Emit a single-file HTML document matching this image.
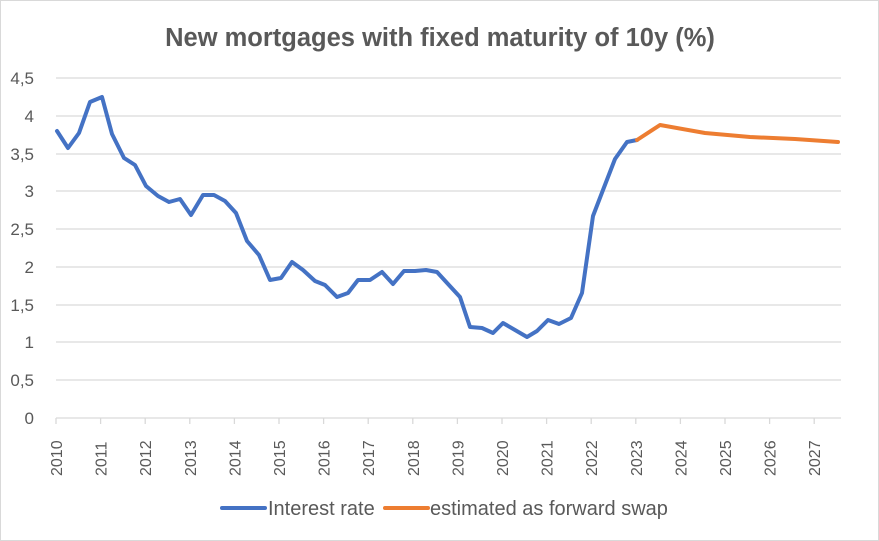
<!DOCTYPE html>
<html><head><style>
html,body{margin:0;padding:0;background:#fff;}
svg{display:block;font-family:"Liberation Sans",Calibri,sans-serif;}
</style></head><body>
<svg width="879" height="541" viewBox="0 0 879 541">
<rect x="0.5" y="0.5" width="878" height="540" fill="#fff" stroke="#d9d9d9"/>
<text x="440" y="46" text-anchor="middle" font-size="25.5" font-weight="bold" fill="#595959">New mortgages with fixed maturity of 10y (%)</text>
<g stroke="#d9d9d9" stroke-width="1.3">
<line x1="56" x2="841" y1="78" y2="78"/><line x1="56" x2="841" y1="116" y2="116"/>
<line x1="56" x2="841" y1="154" y2="154"/><line x1="56" x2="841" y1="191" y2="191"/>
<line x1="56" x2="841" y1="229" y2="229"/><line x1="56" x2="841" y1="267" y2="267"/>
<line x1="56" x2="841" y1="305" y2="305"/><line x1="56" x2="841" y1="342" y2="342"/>
<line x1="56" x2="841" y1="380" y2="380"/><line x1="56" x2="841" y1="418" y2="418"/>
</g>
<g stroke="#d9d9d9" stroke-width="1.3" id="ticks"></g>
<g font-size="17" fill="#595959" text-anchor="end">
<text x="34" y="84">4,5</text><text x="34" y="122">4</text><text x="34" y="160">3,5</text>
<text x="34" y="197">3</text><text x="34" y="235">2,5</text><text x="34" y="273">2</text>
<text x="34" y="311">1,5</text><text x="34" y="348">1</text><text x="34" y="386">0,5</text>
<text x="34" y="424">0</text>
</g>
<g font-size="16" fill="#595959" id="xl"></g>
<polyline fill="none" stroke="#4472c4" stroke-width="4" stroke-linejoin="round" stroke-linecap="round" points="57,131 68,148 79,133 90,102 102,97 112,134 124,158 135,165 146,186 158,196 169,202 180,199 191,215 203,195 214,195 225,201 236,213 247,241 259,255 270,280 281,278 292,262 303,270 315,281 325,285 337,297 348,293 358,280 370,280 382,272 393,284 404,271 415,271 426,270 437,272 448,284 460,297 470,327 482,328 493,333 503,323 515,330 527,337 537,331 548,320 559,324 571,318 582,293 593,216 603,190 615,159 627,142 637,140"/>
<polyline fill="none" stroke="#ed7d31" stroke-width="4" stroke-linejoin="round" stroke-linecap="round" points="637,140 660,125 705,133 750,137 795,139 838,142"/>
<line x1="222" x2="265" y1="508" y2="508" stroke="#4472c4" stroke-width="4" stroke-linecap="round"/>
<text x="268" y="515" font-size="20" fill="#595959">Interest rate</text>
<line x1="385" x2="428" y1="508" y2="508" stroke="#ed7d31" stroke-width="4" stroke-linecap="round"/>
<text x="430" y="515" font-size="20" fill="#595959">estimated as forward swap</text>
<script>
var t=document.getElementById('ticks'),x=document.getElementById('xl'),ns='http://www.w3.org/2000/svg';
for(var i=0;i<18;i++){var px=56+i*44.6;
var l=document.createElementNS(ns,'line');l.setAttribute('x1',px);l.setAttribute('x2',px);l.setAttribute('y1',418);l.setAttribute('y2',424);t.appendChild(l);
var s=document.createElementNS(ns,'text');s.setAttribute('transform','translate('+(px+6)+',476) rotate(-90)');s.textContent=2010+i;x.appendChild(s);}
</script>
</svg>
</body></html>
